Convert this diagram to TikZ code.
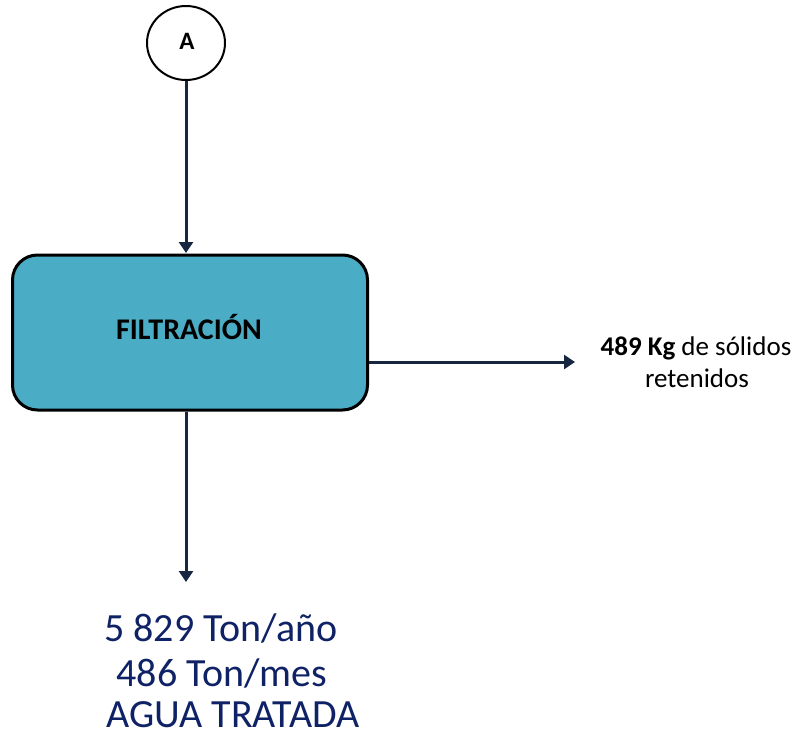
\documentclass[tikz,border=0pt]{standalone}
\usepackage{fontspec}
\setmainfont{Carlito}
\usetikzlibrary{arrows.meta,shapes.geometric}
\definecolor{boxfill}{HTML}{4BACC6}
\definecolor{linecol}{HTML}{17273F}
\definecolor{navy}{HTML}{0F2266}
\tikzset{
  flow/.style={draw=linecol,line width=3pt,-{Triangle[length=11pt,width=14pt]}},
  procbox/.style={draw=black,line width=3pt,fill=boxfill,rounded corners=25pt,minimum width=355pt,minimum height=155pt,inner sep=0pt},
  conn/.style={draw=black,line width=2pt,ellipse,minimum width=78pt,minimum height=74pt,inner sep=0pt},
  lbl/.style={text=black,inner sep=0pt,anchor=base},
}
\begin{document}
\begin{tikzpicture}[x=1pt,y=-1pt]
\useasboundingbox (0,0) rectangle (799,738);
\node[conn] (A) at (186,43) {};
\node[lbl,font=\fontsize{25}{27}\selectfont\bfseries] (At) at (187,50) {A};
\node[procbox] (F) at (190,332.5) {};
\node[lbl,font=\fontsize{30}{32}\selectfont\bfseries] (Ft) at (189,339) {FILTRACIÓN};
\coordinate (Ain) at (186,253);
\draw[flow] (A.south) -- (Ain);
\coordinate (Rout) at (575,362);
\draw[flow] (F.east |- Rout) -- (Rout);
\coordinate (Bout) at (186,582);
\draw[flow] (F.south -| Bout) -- (Bout);
\node[lbl,font=\fontsize{27}{29}\selectfont] (R1) at (696,355) {\textbf{489 Kg} de sólidos};
\node[lbl,font=\fontsize{27}{29}\selectfont] (R2) at (697,387) {retenidos};
\node[lbl,text=navy,font=\fontsize{40}{42}\selectfont] (T1) at (221,641) {5 829 Ton/año};
\node[lbl,text=navy,font=\fontsize{40}{42}\selectfont] (T2) at (222,686) {486 Ton/mes};
\node[lbl,text=navy,font=\fontsize{40}{42}\selectfont] (T3) at (233,727) {AGUA TRATADA};
\end{tikzpicture}
\end{document}
